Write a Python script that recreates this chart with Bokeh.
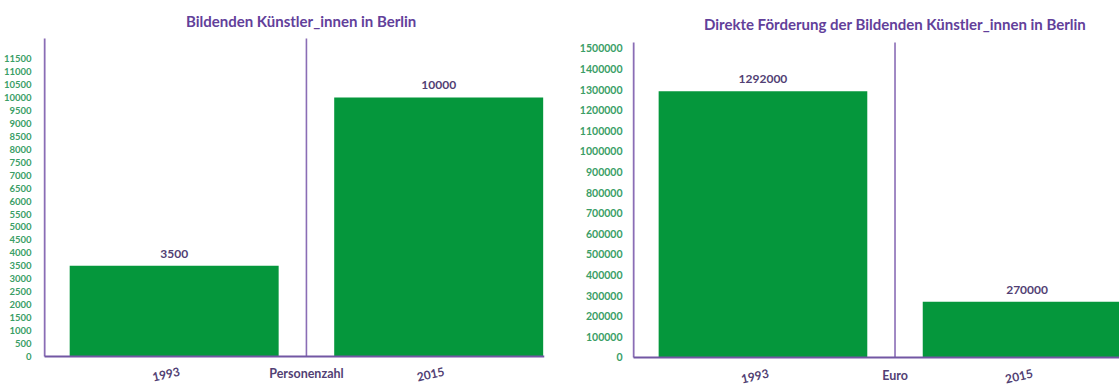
from bokeh.plotting import figure
from bokeh.layouts import row
from bokeh.models import Range1d, FixedTicker, ColumnDataSource, BasicTickFormatter
from bokeh.embed import file_html
from bokeh.resources import INLINE
from bokeh.core.properties import value

# ---------------- data ----------------
years = ["1993", "2015"]
artists = [3500, 10000]            # Personenzahl
funding = [1292000, 270000]        # Euro
left_title = "Bildenden Künstler_innen in Berlin"
right_title = "Direkte Förderung der Bildenden Künstler_innen in Berlin"
left_unit = "Personenzahl"
right_unit = "Euro"
left_ticks = [0, 500, 1000, 1500, 2000, 2500, 3000, 3500, 4000, 4500, 5000, 5500,
              6000, 6500, 7000, 7500, 8000, 8500, 9000, 9500, 10000, 10500, 11000, 11500]
right_ticks = [0, 100000, 200000, 300000, 400000, 500000, 600000, 700000, 800000,
               900000, 1000000, 1100000, 1200000, 1300000, 1400000, 1500000]

# ---------------- style ----------------
GREEN = "#05973c"
TICK_GREEN = "#3a9e66"
TITLE_PURPLE = "#62409a"
VALUE_PURPLE = "#523f74"
AXIS_PURPLE = "#8a6db5"
BASE_PURPLE = "#7257a3"
FONT = "Lato"


def panel(values, ticks, yrange, axis_top, title, unit, width, xrange, borders,
          tick_size, tick_standoff, title_x, title_dy, year_dy, unit_dy):
    left, right = borders
    x0, x1 = xrange
    p = figure(width=width, height=385, output_backend="svg", toolbar_location=None,
               x_range=Range1d(x0, x1), y_range=Range1d(*yrange),
               min_border_left=left, min_border_right=right,
               min_border_top=0, min_border_bottom=0)
    p.outline_line_color = None
    p.grid.visible = False
    p.background_fill_color = "white"
    p.border_fill_color = "white"
    p.xaxis.visible = False

    src = ColumnDataSource(dict(x=[0, 1], top=values, label=[str(v) for v in values],
                                year=years))
    p.vbar(x="x", top="top", bottom=0, width=0.79, source=src,
           fill_color=GREEN, line_color=None)
    p.text(x="x", y="top", text="label", source=src, y_offset=-12,
           text_align="center", text_baseline="middle",
           text_font=value(FONT), text_font_style="bold",
           text_font_size="12px", text_color=VALUE_PURPLE)

    # axis frame lines: vertical axis, divider between the years, baseline
    ax = x0 + 0.004
    p.segment(x0=[ax, 0.5], y0=[0, 0], x1=[ax, 0.5], y1=[axis_top, axis_top],
              line_color=AXIS_PURPLE, line_width=[2, 1.6])
    p.segment(x0=[ax], y0=[0], x1=[x1], y1=[0], line_color=BASE_PURPLE, line_width=2)

    # y axis (labels only)
    ya = p.yaxis[0]
    ya.ticker = FixedTicker(ticks=ticks)
    ya.formatter = BasicTickFormatter(use_scientific=False)
    ya.major_tick_line_color = None
    ya.minor_tick_line_color = None
    ya.axis_line_color = None
    ya.major_label_text_color = TICK_GREEN
    ya.major_label_text_font = FONT
    ya.major_label_text_font_style = "bold"
    ya.major_label_text_font_size = tick_size
    ya.major_label_standoff = tick_standoff

    # title, year labels, unit label
    p.text(x=[title_x], y=[axis_top], text=[title], y_offset=-title_dy,
           text_align="center", text_baseline="middle",
           text_font=value(FONT), text_font_style="bold",
           text_font_size="15px", text_color=TITLE_PURPLE)
    p.text(x="x", y=0, text="year", source=src, x_offset=-8, y_offset=year_dy,
           angle=0.22, text_align="center", text_baseline="middle",
           text_font=value(FONT), text_font_style="bold",
           text_font_size="12px", text_color=VALUE_PURPLE)
    p.text(x=[0.5], y=[0], text=[unit], y_offset=unit_dy,
           text_align="center", text_baseline="middle",
           text_font=value(FONT), text_font_style="bold",
           text_font_size="12.5px", text_color=VALUE_PURPLE)
    return p


# left: baseline at 356 px, 25.9 px per 1000
p1 = panel(artists, left_ticks, (-1120, 13745), 12278, left_title, left_unit,
           559, (-0.494, 1.400), (43, 15), "9.5px", 6, 0.48, 17, 18, 17)
# right: baseline at 357 px, 20.6 px per 100000
p2 = panel(funding, right_ticks, (-136000, 1733000), 1529000, right_title, right_unit,
           560, (-0.494, 1.350), (73, 0), "10.5px", 4, 0.5, 19, 19, 18)

layout = row(p1, p2)
open("out.html", "w").write(file_html(layout, INLINE))
